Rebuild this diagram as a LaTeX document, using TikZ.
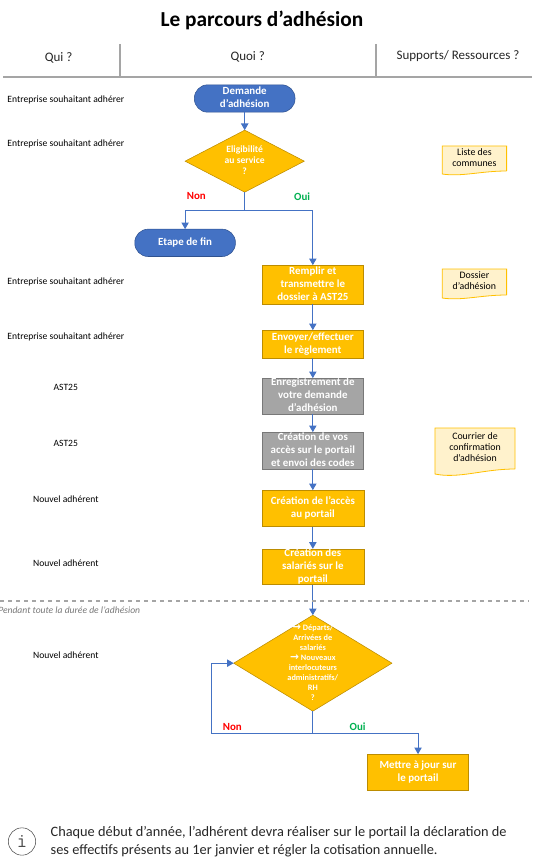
\documentclass[tikz,border=0pt]{standalone}
\usepackage{fontspec}
\setmainfont{Carlito}
\newfontfamily\flechefont{DejaVu Sans}
\usetikzlibrary{shapes.geometric, arrows.meta, positioning, calc, backgrounds}
\usepackage{xcolor}
\definecolor{bleu}{HTML}{4472C4}
\definecolor{bleufonce}{HTML}{2F528F}
\definecolor{jaune}{HTML}{FFC000}
\definecolor{jaunefonce}{HTML}{BC8C00}
\definecolor{gris}{HTML}{A5A5A5}
\definecolor{grisfonce}{HTML}{787878}
\definecolor{papier}{HTML}{FFF2CC}
\definecolor{vertoui}{HTML}{00B050}
% lines may be taller than their box
\newcommand{\lignes}[1]{\raisebox{-3.8pt}{\smash{\begin{tabular}{@{}c@{}}#1\end{tabular}}}}
\newcommand{\fl}{{\flechefont\fontsize{8}{7.5}\selectfont\char"2192}}

\begin{document}
\begin{tikzpicture}[x=0.75pt, y=-0.75pt,
            titre/.style={font=\bfseries\fontsize{16}{19}\selectfont},
            entete/.style={font=\fontsize{9.75}{11}\selectfont, text=black!85},
            qui/.style={font=\fontsize{7.2}{9}\selectfont},
            trait/.style={draw=gris, line width=1.4pt},
            terminal/.style={rectangle, draw=bleufonce, fill=bleu, text=white, rounded corners=10pt, minimum width=75.5pt, minimum height=20.5pt, inner sep=0pt, outer sep=0pt, font=\bfseries\fontsize{8.2}{9.75}\selectfont},
            etape/.style={rectangle, draw=jaunefonce, fill=jaune, text=white, minimum width=76pt, inner sep=0pt, outer sep=0pt, font=\bfseries\fontsize{8.2}{9.75}\selectfont},
            etapegrise/.style={etape, draw=grisfonce, fill=gris},
            choix/.style={diamond, draw=jaunefonce, fill=jaune, text=white, inner sep=0pt, outer sep=0pt, font=\bfseries\fontsize{7.2}{8.3}\selectfont},
            papiertxt/.style={inner sep=0pt, outer sep=0pt, font=\fontsize{7.4}{8.3}\selectfont},
            fleche/.style={-{Triangle[length=5pt, width=5.5pt]}, draw=bleu, line width=0.8pt},
            branche/.style={font=\bfseries\fontsize{8.2}{10}\selectfont}]

        \useasboundingbox (0,0) rectangle (536,866);

        \node [titre] (titre) at (262,20) {Le parcours d’adhésion};

        % headers
        \coordinate (lg) at (3,77);
        \coordinate (ld) at (531.5,77);
        \coordinate (c1) at (120.3,44);
        \coordinate (c2) at (376,44);
        \draw[trait] (lg) -- (ld);
        \draw[trait] (c1) -- (c1 |- lg);
        \draw[trait] (c2) -- (c2 |- lg);
        \node [entete] (qui) at (58.6,57.5) {Qui ?};
        \node [entete] (quoi) at (247.7,57) {Quoi ?};
        \node [entete] (supports) at (458,56) {Supports/ Ressources ?};

        % who
        \node [qui] (q1) at (65.8,100) {Entreprise souhaitant adhérer};
        \node [qui] (q2) at (65.8,144) {Entreprise souhaitant adhérer};
        \node [qui] (q3) at (65.8,282) {Entreprise souhaitant adhérer};
        \node [qui] (q4) at (65.8,337) {Entreprise souhaitant adhérer};
        \node [qui] (q5) at (65.8,387) {AST25};
        \node [qui] (q6) at (65.8,443) {AST25};
        \node [qui] (q7) at (65.8,499) {Nouvel adhérent};
        \node [qui] (q8) at (65.8,563) {Nouvel adhérent};
        \node [qui] (q9) at (65.8,655) {Nouvel adhérent};

        % flow
        \node [terminal] (demande) at (244.7,98.5) {\lignes{Demande\\d’adhésion}};
        \node [choix, minimum width=89.4pt, minimum height=46.5pt, below=13.5pt of demande] (eligibilite) {\lignes{Eligibilité\\au service\\?}};
        \node [terminal, below=27.75pt of eligibilite, xshift=-44.7pt] (fin) {\lignes{Etape de fin}};
        \node [etape, minimum height=29.25pt, below=54.75pt of eligibilite, xshift=51.1pt] (remplir) {\lignes{Remplir et\\transmettre le\\dossier à AST25}};
        \node [etape, minimum height=21pt, below=19.5pt of remplir] (envoyer) {\lignes{Envoyer/effectuer\\le règlement}};
        \node [etapegrise, minimum height=27pt, below=15pt of envoyer] (enregistrement) {\lignes{Enregistrement de\\votre demande\\d’adhésion}};
        \node [etapegrise, minimum height=27.75pt, below=13.5pt of enregistrement] (acces) {\lignes{Création de vos\\accès sur le portail\\et envoi des codes}};
        \node [etape, minimum width=76.6pt, minimum height=27.25pt, below=15.75pt of acces] (portail) {\lignes{Création de l’accès\\au portail}};
        \node [etape, minimum width=76.6pt, minimum height=26.75pt, below=16.75pt of portail] (salaries) {\lignes{Création des\\salariés sur le\\portail}};
        \node [choix, minimum width=118.7pt, minimum height=72pt, below=23pt of salaries, font=\bfseries\fontsize{6.2}{7.5}\selectfont] (depart) {\lignes{\fl\ Départs/\\Arrivées de\\salariés\\\fl\ Nouveaux\\interlocuteurs\\administratifs/\\RH\\?}};
        \node [etape, minimum height=27pt, below=32.25pt of depart, xshift=78.9pt] (maj) {\lignes{Mettre à jour sur\\le portail}};

        % supports
        \node [papiertxt, minimum width=48.3pt, minimum height=18.75pt] (liste) at (474.4,158.5) {\lignes{Liste des\\communes}};
        \node [papiertxt, minimum width=48.3pt, minimum height=19.5pt] (dossier) at (474.4,282) {\lignes{Dossier\\d’adhésion}};
        \node [papiertxt, minimum width=60.1pt, minimum height=30.75pt] (courrier) at (475,448.5) {\lignes{Courrier de\\confirmation\\d’adhésion}};
        \begin{scope}[on background layer]
            \foreach \doc/\creux in {liste/3, dossier/3, courrier/5} {
                \draw[draw=jaune, fill=papier, line width=0.6pt] (\doc.south east) -- (\doc.north east) -- (\doc.north west) -- ($(\doc.south west)+(0,\creux)$)
                    .. controls ($(\doc.south west)!0.3!(\doc.south east)+(0,2*\creux)$) and ($(\doc.south west)!0.6!(\doc.south east)+(0,0)$) .. (\doc.south east);
            }
        \end{scope}

        % connectors
        \draw[fleche] (demande) -- (eligibilite);
        \coordinate (fourche) at ($(eligibilite.south)+(0,18)$);
        \draw[fleche] (eligibilite.south) -- (fourche) -| (fin.north);
        \draw[fleche] (fourche) -| (remplir.north);
        \draw[fleche] (remplir) -- (envoyer);
        \draw[fleche] (envoyer) -- (enregistrement);
        \draw[fleche] (enregistrement) -- (acces);
        \draw[fleche] (acces) -- (portail);
        \draw[fleche] (portail) -- (salaries);
        \draw[fleche] (salaries) -- (depart);
        \coordinate (fourchebas) at ($(depart.south)+(0,22)$);
        \coordinate (boucle) at ($(fourchebas)+(-101.8,0)$);
        \draw[fleche] (depart.south) -- (fourchebas) -| (maj.north);
        \draw[fleche] (fourchebas) -- (boucle) |- (depart.west);

        \node [branche, text=red] (non1) at (196.3,196) {Non};
        \node [branche, text=vertoui] (oui1) at (302.2,197) {Oui};
        \node [branche, text=red] (non2) at (232.3,727) {Non};
        \node [branche, text=vertoui] (oui2) at (357.7,727) {Oui};

        % membership period
        \coordinate (pg) at (0,601);
        \coordinate (pd) at (528.4,601);
        \draw[trait, dashed] (pg) -- (pd);
        \node [anchor=west, inner sep=0pt, text=grisfonce, font=\itshape\fontsize{7.2}{9}\selectfont] (periode) at (-2,610.5) {Pendant toute la durée de l’adhésion};

        % note
        \node [circle, draw=black!70, line width=0.4pt, minimum size=20.5pt, inner sep=0pt, font=\ttfamily\fontsize{15}{15}\selectfont, text=black!70] (info) at (22,841.5) {i};
        \node [anchor=west, align=left, inner sep=0pt, font=\fontsize{10.75}{13.5}\selectfont, text=black!85] (note) at (50.4,842) {Chaque début d’année, l’adhérent devra réaliser sur le portail la déclaration de\\ses effectifs présents au 1er janvier et régler la cotisation annuelle.};

    \end{tikzpicture}
\end{document}
